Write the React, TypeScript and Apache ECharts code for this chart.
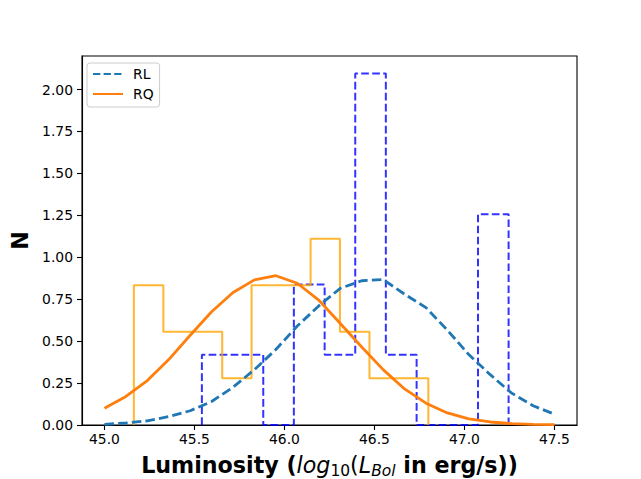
import React, { useEffect, useRef } from "react";
import * as echarts from "echarts";

// KDE evaluation grid (log10 L_Bol)
const kdeX = [45.0, 45.119, 45.238, 45.357, 45.476, 45.595, 45.714, 45.833, 45.952, 46.071, 46.19, 46.31, 46.429, 46.548, 46.667, 46.786, 46.905, 47.024, 47.143, 47.262, 47.381, 47.5];
// KDE values
const rlKde = [0.004, 0.012, 0.025, 0.05, 0.085, 0.14, 0.225, 0.33, 0.45, 0.59, 0.71, 0.815, 0.86, 0.867, 0.78, 0.7, 0.565, 0.42, 0.3, 0.19, 0.115, 0.064];
const rqKde = [0.1, 0.17, 0.265, 0.39, 0.535, 0.675, 0.79, 0.865, 0.89, 0.845, 0.745, 0.605, 0.465, 0.33, 0.215, 0.13, 0.072, 0.037, 0.018, 0.008, 0.004, 0.002];

// Histogram bin edges and density heights
const rlEdges = [45.541, 45.711, 45.882, 46.052, 46.223, 46.393, 46.563, 46.734, 46.904, 47.075, 47.245];
const rlHeights = [0.419, 0.419, 0, 0.838, 0.419, 2.096, 0.419, 0, 0, 1.257];
const rqEdges = [45.163, 45.327, 45.49, 45.654, 45.817, 45.981, 46.145, 46.308, 46.472, 46.635, 46.799];
const rqHeights = [0.833, 0.556, 0.556, 0.278, 0.833, 0.833, 1.111, 0.556, 0.278, 0.278];

// Tick labels
const xTicks = [45.0, 45.5, 46.0, 46.5, 47.0, 47.5];
const yTicks = [0, 0.25, 0.5, 0.75, 1.0, 1.25, 1.5, 1.75, 2.0];

const seriesNames = ["RL", "RQ"];

function stepOutline(edges: number[], heights: number[]): number[][] {
  const pts: number[][] = [[edges[0], 0]];
  for (let i = 0; i < heights.length; i++) {
    pts.push([edges[i], heights[i]]);
    pts.push([edges[i + 1], heights[i]]);
  }
  pts.push([edges[edges.length - 1], 0]);
  return pts;
}

const FONT = "DejaVu Sans";
const LBL = 22.2;
const SUB = 15.5;

export default function App() {
  const ref = useRef<HTMLDivElement>(null);
  useEffect(() => {
    if (!ref.current) return;
    const chart = echarts.init(ref.current, null, { renderer: "svg" });
    const option: any = {
      animation: false,
      backgroundColor: "#ffffff",
      textStyle: { fontFamily: FONT },
      grid: {
        left: 82,
        right: 64,
        top: 56,
        bottom: 54,
        show: true,
        borderColor: "#000000",
        borderWidth: 1.1,
        containLabel: false,
        outerBoundsMode: "none",
      },
      legend: {
        data: [
          { name: seriesNames[0], lineStyle: { type: [7.3, 3.3] } },
          { name: seriesNames[1] },
        ],
        left: 87,
        top: 63,
        orient: "vertical",
        itemWidth: 30,
        itemHeight: 14,
        itemGap: 6,
        padding: [4, 6, 6, 5],
        backgroundColor: "rgba(255,255,255,0.8)",
        borderColor: "#cccccc",
        borderWidth: 1,
        borderRadius: 3,
        itemStyle: { opacity: 0 },
        textStyle: { fontFamily: FONT, fontSize: 13.9, color: "#000000", padding: [0, 0, 0, 5] },
      },
      xAxis: {
        type: "value",
        min: 44.875,
        max: 47.625,
        splitLine: { show: false },
        axisLine: { show: true, onZero: false, lineStyle: { color: "#000000", width: 1.1 } },
        axisTick: { show: true, length: 5, lineStyle: { color: "#000000", width: 1.1 }, customValues: xTicks },
        axisLabel: {
          customValues: xTicks,
          fontFamily: FONT,
          fontSize: 13.9,
          color: "#000000",
          margin: 7,
          formatter: (v: number) => v.toFixed(1),
        },
        name: "{b|Luminosity (}{i|log}{s|10}{r|(}{i|L}{si|Bol}{b| in erg/s))}",
        nameLocation: "middle",
        nameGap: 24,
        nameTextStyle: {
          fontFamily: FONT,
          color: "#000000",
          rich: {
            b: { fontFamily: FONT, fontSize: LBL, fontWeight: "bold", color: "#000", verticalAlign: "middle", lineHeight: 30 },
            i: { fontFamily: FONT, fontSize: LBL, fontStyle: "italic", fontWeight: "normal", color: "#000", verticalAlign: "middle", lineHeight: 30 },
            r: { fontFamily: FONT, fontSize: LBL, fontWeight: "normal", color: "#000", verticalAlign: "middle", lineHeight: 30 },
            s: { fontFamily: FONT, fontSize: SUB, fontWeight: "normal", color: "#000", verticalAlign: "middle", lineHeight: 30, padding: [12, 0, 0, 0] },
            si: { fontFamily: FONT, fontSize: SUB, fontStyle: "italic", fontWeight: "normal", color: "#000", verticalAlign: "middle", lineHeight: 30, padding: [12, 0, 0, 0] },
          },
        },
      },
      yAxis: {
        type: "value",
        min: 0,
        max: 2.2,
        splitLine: { show: false },
        axisLine: { show: true, lineStyle: { color: "#000000", width: 1.1 } },
        axisTick: { show: true, length: 5, lineStyle: { color: "#000000", width: 1.1 }, customValues: yTicks },
        axisLabel: {
          customValues: yTicks,
          fontFamily: FONT,
          fontSize: 13.9,
          color: "#000000",
          margin: 9,
          formatter: (v: number) => v.toFixed(2),
        },
        name: "N",
        nameLocation: "middle",
        nameRotate: 90,
        nameGap: 43,
        nameTextStyle: { fontFamily: FONT, fontSize: LBL, fontWeight: "bold", color: "#000000" },
      },
      series: [
        {
          name: "RL hist",
          type: "line",
          data: stepOutline(rlEdges, rlHeights),
          showSymbol: false,
          symbol: "none",
          z: 2,
          lineStyle: { color: "rgba(0,0,255,0.8)", width: 2, type: [7.7, 3.3] },
          silent: true,
        },
        {
          name: "RQ hist",
          type: "line",
          data: stepOutline(rqEdges, rqHeights),
          showSymbol: false,
          symbol: "none",
          z: 2,
          lineStyle: { color: "rgba(255,165,0,0.8)", width: 2 },
          silent: true,
        },
        {
          name: "RL",
          type: "line",
          data: kdeX.map((x, i) => [x, rlKde[i]]),
          showSymbol: false,
          symbol: "none",
          z: 3,
          color: "#1f77b4",
          lineStyle: { color: "#1f77b4", width: 2.8, type: [9.5, 4.2] },
        },
        {
          name: "RQ",
          type: "line",
          data: kdeX.map((x, i) => [x, rqKde[i]]),
          showSymbol: false,
          symbol: "none",
          z: 3,
          color: "#ff7f0e",
          lineStyle: { color: "#ff7f0e", width: 2.8 },
        },
      ],
    };
    chart.setOption(option);
    return () => chart.dispose();
  }, []);
  return (
    <div
      ref={ref}
      style={{ position: "fixed", left: 0, top: 0, width: 641, height: 479, background: "#fff" }}
    />
  );
}
